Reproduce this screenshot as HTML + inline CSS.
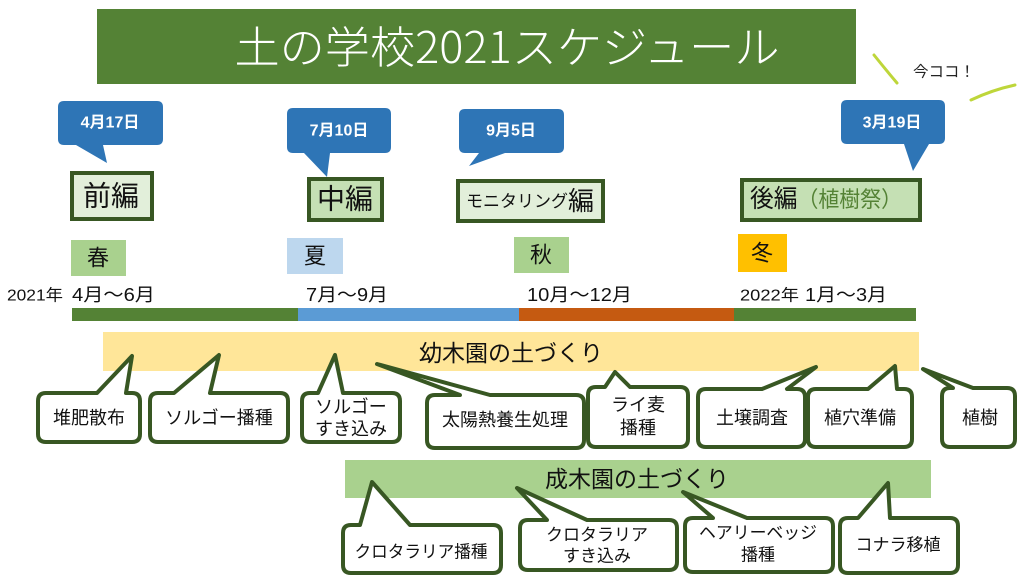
<!DOCTYPE html>
<html><head><meta charset="utf-8"><style>
html,body{margin:0;padding:0;background:#fff;}
svg{display:block;}
text{font-family:"Liberation Sans","Noto Sans CJK JP",sans-serif;}
</style></head><body>
<svg width="1024" height="581" viewBox="0 0 1024 581" xmlns="http://www.w3.org/2000/svg">
<rect x="0" y="0" width="1024" height="581" fill="#fff"/>
<!-- Title -->
<rect x="97" y="9" width="759" height="75" fill="#548235"/>
<text x="507" y="44" font-size="44" fill="#fff" text-anchor="middle" dominant-baseline="central" style="font-family:'Noto Sans CJK JP',sans-serif;font-weight:300" textLength="545" lengthAdjust="spacingAndGlyphs">土の学校2021スケジュール</text>

<!-- 今ココ -->
<path d="M874 55 Q886 70 897 83" stroke="#BED63A" stroke-width="3" fill="none" stroke-linecap="round"/>
<path d="M971 100 Q992 90 1015 85" stroke="#BED63A" stroke-width="3" fill="none" stroke-linecap="round"/>
<text x="944" y="72" font-size="15" fill="#222" text-anchor="middle" dominant-baseline="central" textLength="62" lengthAdjust="spacingAndGlyphs">今ココ！</text>

<!-- Blue date callouts -->
<g fill="#2E75B6">
<path d="M64 101 L157 101 Q163 101 163 107 L163 139 Q163 145 157 145 L103 145 L107 163 L76 145 L64 145 Q58 145 58 139 L58 107 Q58 101 64 101 Z"/>
<path d="M293 108 L385 108 Q391 108 391 114 L391 147 Q391 153 385 153 L330 153 L327 177 L304 153 L293 153 Q287 153 287 147 L287 114 Q287 108 293 108 Z"/>
<path d="M465 109 L558 109 Q564 109 564 115 L564 147 Q564 153 558 153 L505 153 L469 166 L479 153 L465 153 Q459 153 459 147 L459 115 Q459 109 465 109 Z"/>
<path d="M847 100 L939 100 Q945 100 945 106 L945 138 Q945 144 939 144 L929 144 L913 171 L904 144 L847 144 Q841 144 841 138 L841 106 Q841 100 847 100 Z"/>
</g>
<g fill="#fff" font-size="16" font-weight="bold" text-anchor="middle" dominant-baseline="central">
<text x="110" y="123">4月17日</text>
<text x="339" y="131">7月10日</text>
<text x="511" y="131">9月5日</text>
<text x="892" y="123">3月19日</text>
</g>

<!-- Section label boxes -->
<g stroke="#385723" stroke-width="4">
<rect x="72" y="173" width="80" height="46" fill="#E2EFDA"/>
<rect x="309" y="179" width="73" height="41" fill="#C5E0B4"/>
<rect x="458" y="181" width="145" height="40" fill="#E2EFDA"/>
<rect x="742" y="180" width="178" height="40" fill="#C5E0B4"/>
</g>
<g font-size="28" fill="#111" text-anchor="middle" dominant-baseline="central">
<text x="111" y="196">前編</text>
<text x="345" y="199">中編</text>
</g>
<text x="530" y="201" dominant-baseline="central" text-anchor="middle" fill="#111"><tspan font-size="17">モニタリング</tspan><tspan font-size="26">編</tspan></text>
<text x="826" y="199" dominant-baseline="central" text-anchor="middle" textLength="152" lengthAdjust="spacingAndGlyphs"><tspan font-size="25" fill="#111">後編</tspan><tspan font-size="22" fill="#548235">（植樹祭）</tspan></text>

<!-- Seasons -->
<rect x="71" y="240" width="55" height="36" fill="#A9D18E"/>
<rect x="287" y="238" width="56" height="36" fill="#BDD7EE"/>
<rect x="514" y="237" width="55" height="36" fill="#A9D18E"/>
<rect x="738" y="234" width="49" height="38" fill="#FFC000"/>
<g font-size="22" fill="#111" text-anchor="middle" dominant-baseline="central">
<text x="98" y="258">春</text>
<text x="315" y="256">夏</text>
<text x="541" y="255">秋</text>
<text x="762" y="253">冬</text>
</g>

<!-- Month labels -->
<g fill="#111" dominant-baseline="central">
<text x="7" y="296" font-size="16" textLength="56" lengthAdjust="spacingAndGlyphs">2021年</text>
<text x="72" y="295" font-size="18" textLength="83" lengthAdjust="spacingAndGlyphs">4月～6月</text>
<text x="306" y="295" font-size="18" textLength="82" lengthAdjust="spacingAndGlyphs">7月～9月</text>
<text x="527" y="295" font-size="18" textLength="105" lengthAdjust="spacingAndGlyphs">10月～12月</text>
<text x="740" y="296" font-size="16" textLength="59" lengthAdjust="spacingAndGlyphs">2022年</text>
<text x="805" y="295" font-size="18" textLength="82" lengthAdjust="spacingAndGlyphs">1月～3月</text>
</g>

<!-- Timeline bar -->
<rect x="72" y="308" width="226" height="13" fill="#548235"/>
<rect x="298" y="308" width="221" height="13" fill="#5B9BD5"/>
<rect x="519" y="308" width="215" height="13" fill="#C55A11"/>
<rect x="734" y="308" width="182" height="13" fill="#548235"/>

<!-- Yellow bar -->
<rect x="103" y="332" width="816" height="39" fill="#FFE699"/>
<text x="511" y="353" font-size="23" fill="#111" text-anchor="middle" dominant-baseline="central">幼木園の土づくり</text>

<!-- Green bar -->
<rect x="345" y="460" width="586" height="38" fill="#A9D18E"/>
<text x="637" y="479" font-size="23" fill="#111" text-anchor="middle" dominant-baseline="central">成木園の土づくり</text>

<!-- Callouts top row -->
<g fill="#fff" stroke="#385723" stroke-width="4" stroke-linejoin="round">
<path d="M46 393 L97 393 L132 356 L126 393 L132 393 Q140 393 140 401 L140 434 Q140 442 132 442 L46 442 Q38 442 38 434 L38 401 Q38 393 46 393 Z"/>
<path d="M158 393 L174 393 L219 355 L210 393 L280 393 Q288 393 288 401 L288 434 Q288 442 280 442 L158 442 Q150 442 150 434 L150 401 Q150 393 158 393 Z"/>
<path d="M310 393 L318 393 L335 355 L343 393 L392 393 Q400 393 400 401 L400 434 Q400 442 392 442 L310 442 Q302 442 302 434 L302 401 Q302 393 310 393 Z"/>
<path d="M435 395 L460 395 L377 364 L490 395 L576 395 Q584 395 584 403 L584 440 Q584 448 576 448 L435 448 Q427 448 427 440 L427 403 Q427 395 435 395 Z"/>
<path d="M596 387 L605 387 L615 372 L630 387 L680 387 Q688 387 688 395 L688 439 Q688 447 680 447 L596 447 Q588 447 588 439 L588 395 Q588 387 596 387 Z"/>
<path d="M706 389 L762 389 L816 367 L787 389 L797 389 Q805 389 805 397 L805 439 Q805 447 797 447 L706 447 Q698 447 698 439 L698 397 Q698 389 706 389 Z"/>
<path d="M816 389 L868 389 L895 366 L897 389 L904 389 Q912 389 912 397 L912 439 Q912 447 904 447 L816 447 Q808 447 808 439 L808 397 Q808 389 816 389 Z"/>
<path d="M950 388 L953 388 L923 369 L973 388 L1007 388 Q1015 388 1015 396 L1015 439 Q1015 447 1007 447 L950 447 Q942 447 942 439 L942 396 Q942 388 950 388 Z"/>
<!-- bottom row -->
<path d="M351 525 L360 525 L372 482 L410 525 L493 525 Q501 525 501 533 L501 565 Q501 573 493 573 L351 573 Q343 573 343 565 L343 533 Q343 525 351 525 Z"/>
<path d="M528 520 L547 520 L517 488 L587 520 L669 520 Q677 520 677 528 L677 562 Q677 570 669 570 L528 570 Q520 570 520 562 L520 528 Q520 520 528 520 Z"/>
<path d="M693 518 L713 518 L683 492 L747 518 L825 518 Q833 518 833 526 L833 564 Q833 572 825 572 L693 572 Q685 572 685 564 L685 526 Q685 518 693 518 Z"/>
<path d="M848 518 L858 518 L888 483 L890 518 L950 518 Q958 518 958 526 L958 565 Q958 573 950 573 L848 573 Q840 573 840 565 L840 526 Q840 518 848 518 Z"/>
</g>
<g fill="#111" text-anchor="middle" dominant-baseline="central" font-size="18">
<text x="89" y="418">堆肥散布</text>
<text x="219" y="418">ソルゴー播種</text>
<text x="351" y="407">ソルゴー</text>
<text x="351" y="429">すき込み</text>
<text x="505" y="420">太陽熱養生処理</text>
<text x="638" y="405">ライ麦</text>
<text x="638" y="428">播種</text>
<text x="752" y="418">土壌調査</text>
<text x="860" y="418">植穴準備</text>
<text x="980" y="418">植樹</text>
</g>
<g fill="#111" text-anchor="middle" dominant-baseline="central" font-size="17">
<text x="421" y="552" textLength="133" lengthAdjust="spacingAndGlyphs">クロタラリア播種</text>
<text x="597" y="535">クロタラリア</text>
<text x="597" y="556">すき込み</text>
<text x="758" y="533" textLength="118" lengthAdjust="spacingAndGlyphs">ヘアリーベッジ</text>
<text x="758" y="555">播種</text>
<text x="898" y="545">コナラ移植</text>
</g>
</svg>
</body></html>
